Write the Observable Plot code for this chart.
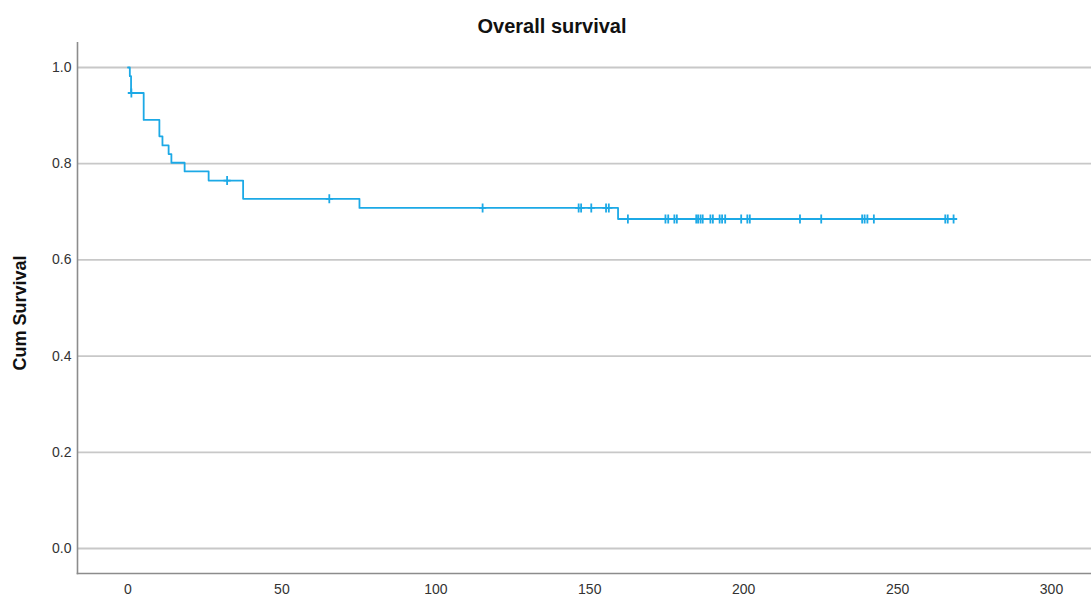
<!DOCTYPE html>
<html>
<head>
<meta charset="utf-8">
<script src="https://cdn.jsdelivr.net/npm/d3@7"></script>
<script src="https://cdn.jsdelivr.net/npm/@observablehq/plot@0.6"></script>
<style>
  body { margin: 0; background: #fff; }
  #title { height: 42px; position: relative; font-family: "Liberation Sans", Arial, sans-serif; font-weight: bold; font-size: 20px; color: #111; }
  #title span { position: absolute; left: 552px; top: 26px; transform: translate(-50%, -50%); white-space: nowrap; }
</style>
</head>
<body>
<div id="title"><span>Overall survival</span></div>
<div id="chart"></div>
<script>
// Kaplan–Meier step curve: event times and survival after each step
const stepTimes = [0, 0.6, 1.0, 5.1, 10.2, 11.2, 13.2, 14.1, 18.4, 26.2, 37.4, 75.2, 159.2];
const stepSurv  = [1.0, 0.982, 0.947, 0.891, 0.857, 0.838, 0.820, 0.802, 0.784, 0.765, 0.727, 0.708, 0.685];
// Censored observation times
const censorTimes = [1.1, 32.2, 65.4, 115.2, 146.4, 147.2, 150.5, 155.3, 156.2, 162.4,
  174.6, 175.5, 177.5, 178.3, 184.6, 185.2, 186.0, 186.7, 189.2, 190.0, 192.2, 193.0, 194.0,
  199.2, 201.2, 202.0, 218.3, 225.2, 238.5, 239.3, 240.2, 242.3, 265.5, 266.3, 268.2];
const xTicks = [0, 50, 100, 150, 200, 250, 300];
const yTicks = [0, 0.2, 0.4, 0.6, 0.8, 1.0];
const yLabel = "Cum Survival";

const survAt = t => { let s = 1; for (let i = 0; i < stepTimes.length; i++) if (stepTimes[i] <= t) s = stepSurv[i]; return s; };
const lastTime = d3.max(censorTimes);
const curve = stepTimes.map((t, i) => ({t, s: stepSurv[i]})).concat([{t: lastTime, s: survAt(lastTime)}]);
const censored = censorTimes.map(t => ({t, s: survAt(t)}));

const cross = {
  draw(ctx, size) {
    const r = Math.sqrt(size / Math.PI);
    ctx.moveTo(0, -r); ctx.lineTo(0, r);
    ctx.moveTo(-r * 0.8, 0); ctx.lineTo(r * 0.8, 0);
  }
};

const blue = "#1ca9e6";
const chart = Plot.plot({
  width: 1091,
  height: 557,
  marginLeft: 77,
  marginRight: 0,
  marginTop: 0,
  marginBottom: 26,
  style: { fontFamily: '"Liberation Sans", Arial, sans-serif', background: "#fff" },
  x: { domain: [-16.4, 313] },
  y: { domain: [-0.052, 1.052] },
  marks: [
    Plot.gridY(yTicks, { stroke: "#c8c8c8", strokeOpacity: 1, strokeWidth: 1.8 }),
    Plot.frame({ anchor: "left", stroke: "#8c8c8c", strokeWidth: 1.6 }),
    Plot.frame({ anchor: "bottom", stroke: "#8c8c8c", strokeWidth: 1.6 }),
    Plot.axisY(yTicks, { tickSize: 0, tickPadding: 6, tickFormat: d3.format(".1f"), fontSize: 14, fill: "#333", label: null }),
    Plot.axisX(xTicks, { tickSize: 0, tickPadding: 11, tickFormat: d => String(d), fontSize: 14, fill: "#333", label: null }),
    Plot.text([yLabel], { frameAnchor: "left", textAnchor: "middle", dx: -57, dy: 5, rotate: -90, fontSize: 18, fontWeight: "bold", fill: "#111", text: d => d }),
    Plot.line(curve, { x: "t", y: "s", curve: "step-after", stroke: blue, strokeWidth: 1.8 }),
    Plot.dot(censored, { x: "t", y: "s", symbol: cross, r: 4.5, fill: "none", stroke: blue, strokeWidth: 1.8 })
  ]
});
document.getElementById("chart").appendChild(chart);
</script>
</body>
</html>
